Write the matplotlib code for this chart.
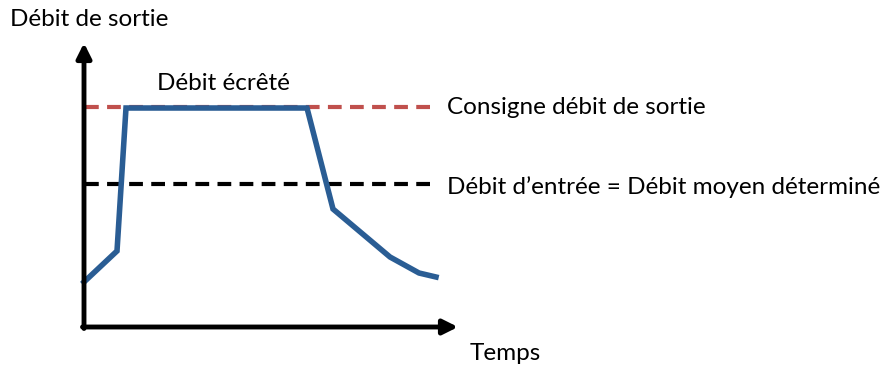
import matplotlib
matplotlib.use("Agg")
import matplotlib.pyplot as plt

# Courbe du débit de sortie (temps, débit) en unités arbitraires
temps = [0, 33, 42, 223, 249, 306, 335, 352]
debit_sortie = [45, 76, 219, 219, 118, 70, 54, 50]

consigne = 220
debit_moyen = 143
fin_lignes = 352

plt.rcParams['font.family'] = ['Lato', 'DejaVu Sans']

fig = plt.figure(figsize=(8.9, 3.65), dpi=100)
ax = fig.add_axes([0, 0, 1, 1])
ax.set_xlim(-84, 806)
ax.set_ylim(-38, 327)
ax.axis("off")

# Axes avec flèches
ax.annotate("", xy=(0, 284), xytext=(0, -1.5),
            arrowprops=dict(arrowstyle="-|>", color="black", lw=3.5,
                            mutation_scale=22, shrinkA=0, shrinkB=0))
ax.annotate("", xy=(374, 0), xytext=(-1.5, 0),
            arrowprops=dict(arrowstyle="-|>", color="black", lw=3.5,
                            mutation_scale=22, shrinkA=0, shrinkB=0))

# Lignes de référence
ax.plot([1, fin_lignes], [consigne, consigne], color="#c0504d", lw=3,
        dashes=(3.3, 2))
ax.plot([1, fin_lignes], [debit_moyen, debit_moyen], color="black", lw=3,
        dashes=(3.3, 2))

ax.plot(temps, debit_sortie, color="#2a5d94", lw=4, solid_joinstyle="miter")

fs = 17.5
ax.text(-74, 308, "Débit de sortie", fontsize=fs, va="center", ha="left")
ax.text(73, 243, "Débit écrêté", fontsize=fs, va="center", ha="left")
ax.text(363, consigne - 1, "Consigne débit de sortie", fontsize=fs, va="center", ha="left")
ax.text(363, debit_moyen - 3, "Débit d\u2019entrée = Débit moyen déterminé", fontsize=fs,
        va="center", ha="left")
ax.text(386, -26, "Temps", fontsize=fs, va="center", ha="left")

fig.savefig("out.png", dpi=100)
